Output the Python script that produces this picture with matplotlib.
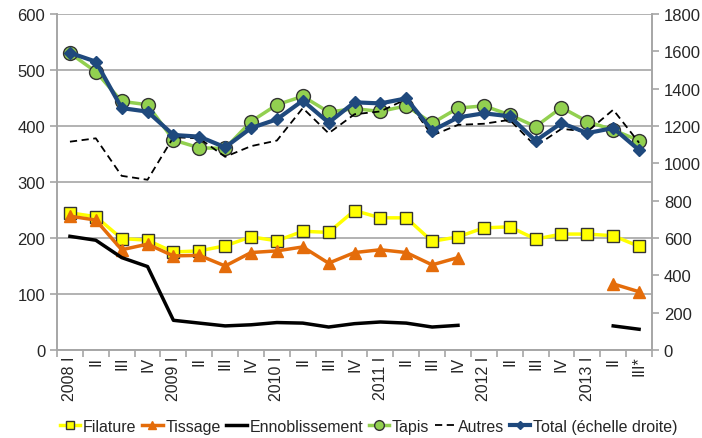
import numpy as np
import matplotlib
matplotlib.use("Agg")
import matplotlib.pyplot as plt

plt.rcParams['font.family'] = ['Liberation Sans', 'DejaVu Sans']

quarters = ["2008 I", "II", "III", "IV", "2009 I", "II", "III", "IV",
            "2010 I", "II", "III", "IV", "2011 I", "II", "III", "IV",
            "2012 I", "II", "III", "IV", "2013 I", "II", "III*"]
nan = np.nan
filature = [245, 238, 199, 196, 175, 177, 186, 202, 195, 212, 210, 249,
            236, 236, 194, 202, 218, 220, 198, 207, 207, 204, 185]
tissage = [239, 232, 179, 189, 168, 169, 150, 174, 177, 184, 155, 174,
           179, 174, 152, 165, nan, nan, nan, nan, nan, 118, 104]
ennoblissement = [203, 196, 165, 149, 53, 48, 43, 45, 49, 48, 41, 47,
                  50, 48, 41, 44, nan, nan, nan, nan, nan, 43, 37]
tapis = [530, 497, 444, 438, 375, 361, 360, 408, 438, 453, 425, 431,
         426, 436, 405, 432, 436, 420, 399, 433, 408, 393, 374]
autres = [372, 378, 311, 304, 380, 378, 345, 364, 374, 432, 387, 421,
          426, 448, 383, 402, 404, 411, 364, 395, 390, 429, 370]
total = [1592, 1545, 1296, 1277, 1152, 1143, 1086, 1189, 1236, 1336, 1218, 1327,
         1321, 1348, 1175, 1246, 1268, 1252, 1121, 1216, 1162, 1189, 1071]

x = np.arange(len(quarters))
fig = plt.figure(figsize=(7.02, 4.39), dpi=100)
ax = fig.add_axes([0.0812, 0.2005, 0.8476, 0.7653])
ax2 = ax.twinx()

grid_c = '#a6a6a6'
txt_c = '#262626'

l1, = ax.plot(x, filature, color='#FFFF00', lw=2.5, marker='s', ms=9,
              mfc='#FFFF00', mec='#333333', mew=1.0, label='Filature')
l2, = ax.plot(x, tissage, color='#E46C0A', lw=2.5, marker='^', ms=9,
              mfc='#E46C0A', mec='#E46C0A', label='Tissage')
l3, = ax.plot(x, ennoblissement, color='black', lw=2.5, label='Ennoblissement')
l4, = ax.plot(x, tapis, color='#92D050', lw=2.5, marker='o', ms=10,
              mfc='#92D050', mec='#333333', mew=1.0, label='Tapis')
l5, = ax.plot(x, autres, color='black', lw=1.3, ls=(0, (4, 2.5)), label='Autres')
l6, = ax2.plot(x, total, color='#1F497D', lw=3, marker='D', ms=6,
               mfc='#1F497D', mec='#1F497D', label='Total (échelle droite)')

ax.set_xlim(-0.5, len(x) - 0.5)
ax.set_ylim(0, 600)
ax2.set_ylim(0, 1800)
ax.set_yticks(np.arange(0, 601, 100))
ax2.set_yticks(np.arange(0, 1801, 200))
ax.yaxis.grid(True, color=grid_c, lw=1.2)
ax.set_axisbelow(True)

ax.set_xticks(x)
ax.set_xticklabels(quarters, rotation=90, fontsize=11.5, color=txt_c)
ax.set_xticks(np.arange(-0.5, len(x), 1), minor=True)
ax.tick_params(axis='x', which='major', length=0, pad=4)
ax.tick_params(axis='x', which='minor', length=5, color=grid_c, width=1.2)
ax.tick_params(axis='y', length=5, color=grid_c, width=1.2, labelsize=12, labelcolor=txt_c)
ax2.tick_params(axis='y', length=5, color=grid_c, width=1.2, labelsize=12, labelcolor=txt_c)

for a in (ax, ax2):
    a.spines['top'].set_visible(False)
    for s in ('left', 'right', 'bottom'):
        a.spines[s].set_color(grid_c)
        a.spines[s].set_linewidth(1.2)

fig.legend(handles=[l1, l2, l3, l4, l5, l6], loc='center', bbox_to_anchor=(0.525, 0.027),
           ncol=6, frameon=False, fontsize=11.5, handlelength=1.3, handletextpad=0.15,
           columnspacing=0.35, markerscale=0.7, labelcolor=txt_c)

fig.savefig('out.png', dpi=100)
